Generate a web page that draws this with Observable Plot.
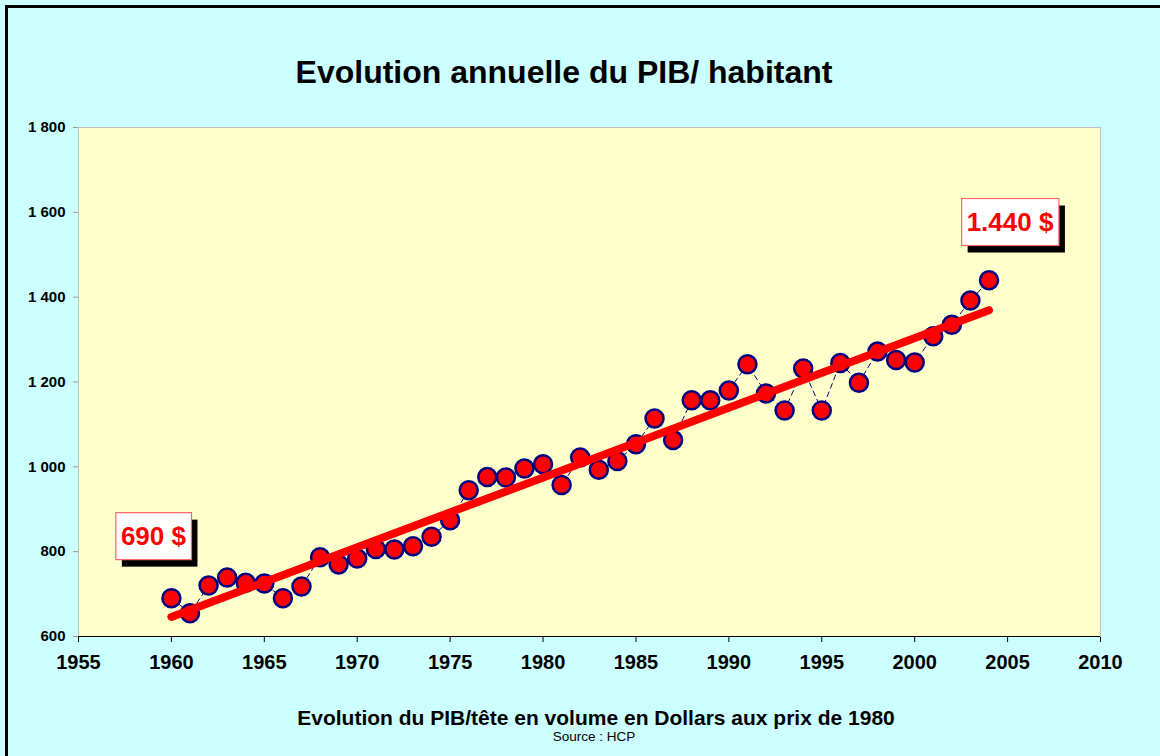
<!DOCTYPE html>
<html><head><meta charset="utf-8">
<script src="https://cdn.jsdelivr.net/npm/d3@7"></script>
<script src="https://cdn.jsdelivr.net/npm/@observablehq/plot@0.6"></script>
<style>
body{margin:0;width:1160px;height:756px;overflow:hidden;background:#ccffff;font-family:"Liberation Sans",Arial,sans-serif;position:relative}
#frame{position:absolute;left:5px;top:5px;width:1160px;height:760px;border:3px solid #000;box-sizing:border-box}
#title{position:absolute;left:0;width:1128px;top:52px;text-align:center;font-weight:bold;font-size:32px;line-height:40px;color:#000}
#chart{position:absolute;left:0;top:100px}
#xtitle{position:absolute;left:0;width:1192px;top:705px;text-align:center;font-weight:bold;font-size:21px;line-height:26px;color:#000}
#source{position:absolute;left:0;width:1188px;top:729px;text-align:center;font-size:13.5px;line-height:16px;color:#000}
#chart [aria-label^="x-axis"] text{font-size:20px}
#chart [aria-label^="y-axis"] text{font-size:15px}
#chart [aria-label^="y-axis"] line,#chart [aria-label^="y-axis"] path{stroke:#999}
</style>
</head>
<body>
<div id="frame"></div>
<div id="title">Evolution annuelle du PIB/ habitant</div>
<div id="chart"></div>
<div id="xtitle">Evolution du PIB/tête en volume en Dollars aux prix de 1980</div>
<div id="source">Source : HCP</div>
<script>
const years = [1960,1961,1962,1963,1964,1965,1966,1967,1968,1969,1970,1971,1972,1973,1974,1975,1976,1977,1978,1979,1980,1981,1982,1983,1984,1985,1986,1987,1988,1989,1990,1991,1992,1993,1994,1995,1996,1997,1998,1999,2000,2001,2002,2003,2004];
const gdp = [690,655,720,739,727,725,690,718,787,770,784,806,805,813,835,874,945,976,975,996,1006,957,1022,993,1014,1053,1114,1063,1157,1157,1180,1242,1173,1133,1232,1133,1245,1198,1272,1252,1246,1308,1335,1392,1440];
const xTicks = [1955,1960,1965,1970,1975,1980,1985,1990,1995,2000,2005,2010];
const yTicks = [600,800,1000,1200,1400,1600,1800];
const annYears = [1960,2004];
const annLabels = ["690 $","1.440 $"];

const data = years.map((year,i)=>({year, value: gdp[i]}));
const ann = annYears.map((year,i)=>({year, value: gdp[years.indexOf(year)], label: annLabels[i]}));
const fmtY = d => d3.format(",")(d).replace(/,/g," ");

const chart = Plot.plot({
  width:1160, height:600, marginTop:27, marginBottom:64, marginLeft:78, marginRight:60,
  style:{background:"transparent", fontFamily:'"Liberation Sans", Arial, sans-serif', fontWeight:"bold", color:"black", fontSize:"15px", overflow:"visible"},
  x:{domain:[1955,2010], ticks:xTicks, tickFormat:"d", tickSize:6, tickPadding:12, label:null},
  y:{domain:[600,1800], ticks:yTicks, tickFormat:fmtY, tickSize:5, tickPadding:8, label:null},
  marks:[
    Plot.frame({fill:"#ffffcc", stroke:"#c0c0c0"}),
    Plot.ruleY([600],{stroke:"black", strokeWidth:1.2}),
    Plot.line(data,{x:"year", y:"value", stroke:"#000080", strokeWidth:1, strokeDasharray:"5,4"}),
    Plot.dot(data,{x:"year", y:"value", r:9, fill:"red", stroke:"#000080", strokeWidth:2.5}),
    Plot.linearRegressionY(data,{x:"year", y:"value", stroke:"red", strokeWidth:8, ci:0, strokeLinecap:"round"}),
    Plot.text([ann[0]],{x:"year", y:"value", text:"label", dx:-18, dy:-61.5, fill:"red", fontSize:26, fontWeight:"bold"}),
    Plot.text([ann[1]],{x:"year", y:"value", text:"label", dx:21, dy:-57.5, fill:"red", fontSize:26, fontWeight:"bold"})
  ]
});
document.getElementById("chart").append(chart);

const ns = "http://www.w3.org/2000/svg";
chart.querySelectorAll("text").forEach(t => {
  if (!annLabels.includes(t.textContent)) return;
  const bb = t.getBBox();
  const w = bb.width + 10, h = 47;
  const cx = bb.x + bb.width/2, cy = bb.y + bb.height/2;
  const tr = t.getAttribute("transform");
  const mk = (x,y,fill,stroke) => {
    const r = document.createElementNS(ns,"rect");
    r.setAttribute("x", x); r.setAttribute("y", y);
    r.setAttribute("width", w); r.setAttribute("height", h);
    r.setAttribute("fill", fill);
    if (stroke) { r.setAttribute("stroke", stroke); r.setAttribute("stroke-width", 1.2); }
    if (tr) r.setAttribute("transform", tr);
    return r;
  };
  t.parentNode.insertBefore(mk(cx-w/2+6, cy-h/2+7, "#000"), t);
  t.parentNode.insertBefore(mk(cx-w/2, cy-h/2, "#fff", "#ff6666"), t);
});
</script>
</body></html>
